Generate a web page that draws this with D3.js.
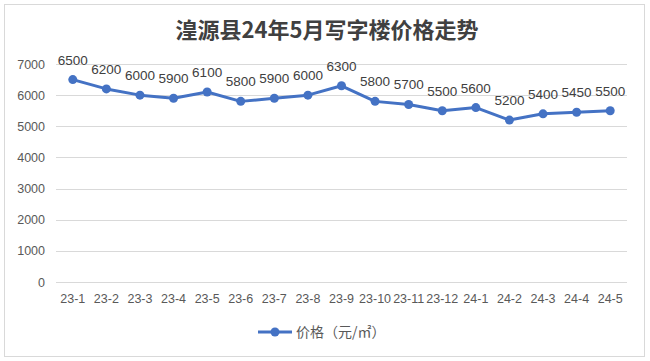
<!DOCTYPE html>
<html><head><meta charset="utf-8">
<script src="https://cdn.jsdelivr.net/npm/d3@7"></script>
<style>body{margin:0;background:#fff;}svg{display:block;font-family:"Liberation Sans","Noto Sans CJK SC",sans-serif;}</style>
</head><body>
<script>
const categories = ["23-1","23-2","23-3","23-4","23-5","23-6","23-7","23-8","23-9","23-10","23-11","23-12","24-1","24-2","24-3","24-4","24-5"];
const prices = [6500,6200,6000,5900,6100,5800,5900,6000,6300,5800,5700,5500,5600,5200,5400,5450,5500];
const yTicks = [0,1000,2000,3000,4000,5000,6000,7000];
const title = "湟源县24年5月写字楼价格走势";
const seriesName = "价格（元/㎡）";

const W = 650, H = 361;
const svg = d3.select("body").append("svg").attr("width", W).attr("height", H);
svg.append("rect").attr("x",4.5).attr("y",4.5).attr("width",640).attr("height",352)
  .attr("fill","#fff").attr("stroke","#d9d9d9");

const x = d3.scaleBand().domain(categories).range([56, 627]);
const y = d3.scaleLinear().domain([0,7000]).range([282, 64]);

svg.append("text").attr("x",327).attr("y",38).attr("text-anchor","middle")
  .attr("font-family","'Noto Sans CJK SC',sans-serif").attr("font-weight","bold")
  .attr("font-size",22).attr("fill","#404040").text(title);

const grid = svg.append("g");
grid.selectAll("line").data(yTicks).join("line")
  .attr("x1",56).attr("x2",627).attr("y1",d=>Math.round(y(d))+0.5).attr("y2",d=>Math.round(y(d))+0.5)
  .attr("stroke","#d9d9d9").attr("stroke-width",1);

const yAxis = svg.append("g").attr("transform","translate(56,0)")
  .call(d3.axisLeft(y).tickValues(yTicks).tickSize(0).tickPadding(11).tickFormat(d3.format("d")));
yAxis.select(".domain").remove();
yAxis.selectAll("text").attr("font-size",12.5).attr("fill","#595959");

const xAxis = svg.append("g").attr("transform","translate(0,282)")
  .call(d3.axisBottom(x).tickSize(0).tickPadding(12));
xAxis.select(".domain").remove();
xAxis.selectAll("text").attr("font-size",12.5).attr("fill","#595959");

const cx = d => x(d) + x.bandwidth()/2;
const line = d3.line().x((d,i)=>cx(categories[i])).y(d=>y(d));
svg.append("path").datum(prices).attr("d",line).attr("fill","none")
  .attr("stroke","#4472C4").attr("stroke-width",3).attr("stroke-linejoin","round");
svg.selectAll("circle.pt").data(prices).join("circle").attr("class","pt")
  .attr("cx",(d,i)=>cx(categories[i])).attr("cy",d=>y(d)).attr("r",4.5).attr("fill","#4472C4");
svg.selectAll("text.lbl").data(prices).join("text").attr("class","lbl")
  .attr("x",(d,i)=>cx(categories[i])).attr("y",d=>y(d)-15).attr("text-anchor","middle")
  .attr("font-size",13.5).attr("fill","#404040").text(d=>d);

const lg = svg.append("g");
lg.append("line").attr("x1",258).attr("x2",292).attr("y1",332).attr("y2",332).attr("stroke","#4472C4").attr("stroke-width",3);
lg.append("circle").attr("cx",275).attr("cy",332).attr("r",4.5).attr("fill","#4472C4");
lg.append("text").attr("x",296).attr("y",337).attr("font-size",14).attr("fill","#595959")
  .attr("font-family","'Noto Sans CJK SC',sans-serif").text(seriesName);
</script>
</body></html>
